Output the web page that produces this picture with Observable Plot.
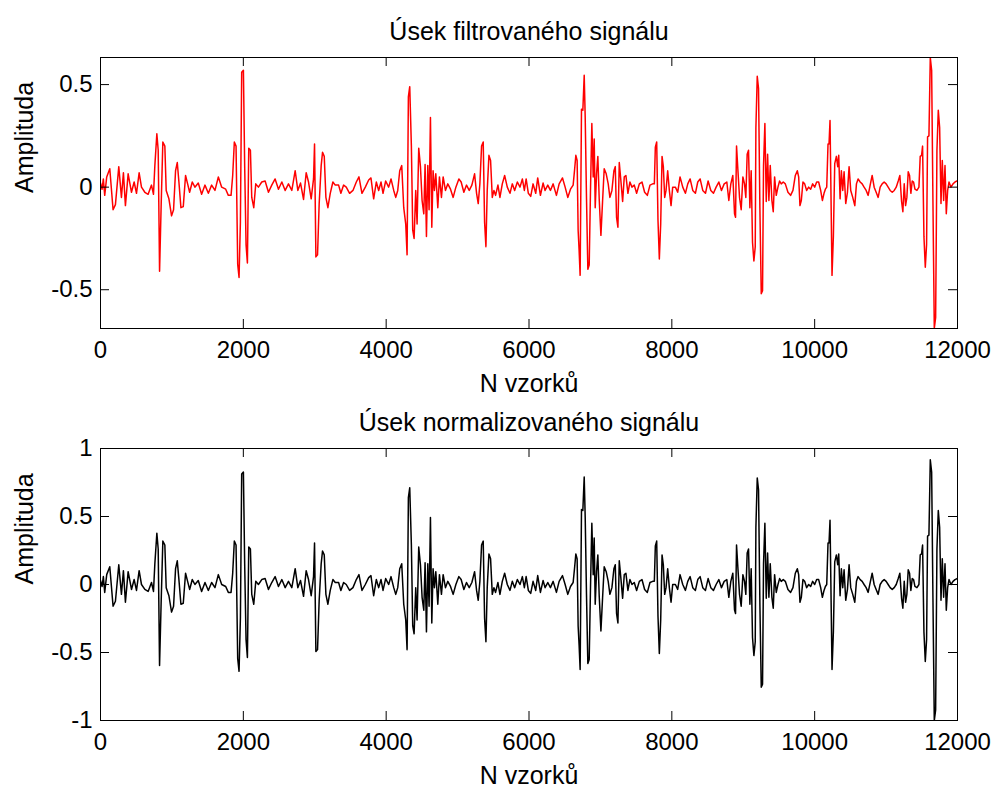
<!DOCTYPE html>
<html>
<head>
<meta charset="utf-8">
<script src="https://cdn.jsdelivr.net/npm/d3@7"></script>
<script src="https://cdn.jsdelivr.net/npm/@observablehq/plot@0.6"></script>
<style>
  html, body { margin: 0; padding: 0; background: #fff; }
  #chart svg { display: block; }
</style>
</head>
<body>
<div id="chart"></div>
<script>
// ---- Data ----
const titles = ["Úsek filtrovaného signálu", "Úsek normalizovaného signálu"];
const xLabel = "N vzorků";
const yLabel = "Amplituda";
const xTicks = [0, 2000, 4000, 6000, 8000, 10000, 12000];
const yTicksFiltered = [-0.5, 0, 0.5];
const yTicksNormalized = [-1, -0.5, 0, 0.5, 1];

// [sample index, amplitude] vertices of the filtered signal
const filteredPoints = [
[0,0.02],[22,-0.01],[40,0.04],[59,-0.04],[87,0.05],[130,0.09],[176,-0.11],[209,-0.085],[256,0.10],[293,-0.05],
[321,0.07],[349,-0.09],[387,0.065],[434,-0.025],[471,0.025],[504,-0.03],[541,0.07],[574,0],[621,-0.025],[667,-0.035],
[714,0.01],[742,-0.035],[761,0.105],[789,0.26],[808,0.18],[827,-0.41],[850,-0.08],[873,0.22],[901,0.20],[920,-0.016],
[958,-0.057],[995,-0.14],[1023,-0.11],[1051,0.08],[1075,0.12],[1098,0.025],[1126,-0.10],[1159,-0.095],[1191,0.057],[1220,0.016],
[1248,-0.025],[1285,0.025],[1322,0],[1369,0.02],[1416,-0.035],[1463,0.01],[1510,-0.03],[1556,0.01],[1603,-0.016],[1650,0.05],
[1697,0],[1753,-0.01],[1790,-0.04],[1828,-0.04],[1851,0.057],[1874,0.22],[1898,0.20],[1921,-0.375],[1940,-0.44],[1959,-0.17],
[1977,0.56],[2001,0.57],[2019,0.10],[2038,-0.28],[2057,-0.37],[2076,0.19],[2099,0.18],[2118,-0.05],[2146,-0.10],[2174,0.016],
[2211,0],[2258,0.025],[2305,0.03],[2352,-0.025],[2398,0.01],[2445,0.04],[2492,-0.01],[2539,0.025],[2586,-0.016],[2632,0.016],
[2679,-0.016],[2726,0.08],[2763,-0.016],[2801,0.02],[2843,-0.06],[2880,0.07],[2913,0.025],[2950,-0.057],
[2983,0.04],[2997,0.21],[3016,-0.34],[3039,-0.33],[3062,-0.08],[3090,0.105],[3109,0.17],[3133,0.15],[3156,-0.05],[3184,-0.10],
[3217,-0.03],[3254,0.025],[3287,0.01],[3334,0.01],[3366,-0.03],[3404,0.01],[3441,0],[3488,-0.03],[3535,-0.016],[3582,0.025],
[3619,0.05],[3661,-0.03],[3708,0],[3755,0.035],[3787,0.045],[3825,-0.057],[3862,0.025],[3895,-0.016],[3928,0.025],[3956,-0.03],
[3993,0.03],[4035,0],[4068,0.04],[4106,-0.016],[4134,-0.05],[4162,-0.016],[4190,0.08],[4218,0.105],[4246,-0.10],[4274,-0.18],
[4293,-0.33],[4311,0.44],[4330,0.49],[4353,0.20],[4372,-0.21],[4391,-0.25],[4414,-0.016],[4433,-0.18],[4456,0.19],[4480,0.10],
[4503,-0.065],[4527,-0.13],[4545,0.11],[4564,-0.24],[4583,0.105],[4601,-0.11],[4620,0.34],[4639,-0.195],[4657,0.08],[4676,-0.016],
[4695,0.065],[4723,-0.10],[4746,0.05],[4774,-0.05],[4798,0.05],[4830,-0.016],[4863,0.016],[4901,-0.01],[4938,-0.05],[4976,0],
[5018,0.04],[5050,0.025],[5088,-0.025],[5125,0.01],[5163,-0.016],[5200,0.01],[5238,0.065],[5266,-0.03],[5289,-0.08],[5312,0.016],
[5336,0.20],[5359,0.22],[5378,-0.17],[5397,-0.29],[5415,-0.016],[5439,0.155],[5462,0.13],[5486,-0.05],[5509,-0.016],[5532,-0.04],
[5565,0.01],[5593,-0.05],[5626,0.016],[5659,0.057],[5696,0],[5734,-0.03],[5766,0.016],[5799,-0.016],[5837,0.025],[5874,0],
[5907,0.04],[5935,-0.016],
[5960,0.04],[5991,-0.03],[6024,-0.045],[6057,0.016],[6094,-0.03],[6122,0.045],[6160,-0.04],[6197,0.02],[6225,-0.016],[6263,0.01],
[6300,-0.016],[6338,0.016],[6384,-0.04],[6422,0.016],[6469,0.045],[6506,0],[6543,-0.05],[6581,-0.01],[6618,0.01],[6637,0.08],
[6656,0.155],[6674,0.13],[6688,-0.21],[6702,-0.31],[6716,-0.43],[6735,0.38],[6754,0.375],[6773,0.545],[6787,0.34],[6805,-0.05],
[6824,-0.40],[6843,-0.38],[6861,-0.016],[6880,0.31],[6899,0.05],[6913,0.235],[6927,-0.10],[6946,0.065],[6964,0.15],[6983,-0.057],
[7007,-0.235],[7030,-0.07],[7053,0.09],[7081,0.065],[7109,0.016],[7133,-0.05],[7161,-0.016],[7189,0.08],[7208,0.10],[7226,-0.147],
[7245,-0.195],[7264,0.12],[7287,0.03],[7311,-0.07],[7334,0.05],[7357,0.057],[7385,-0.03],[7413,0.025],[7442,0],[7474,0.01],
[7507,-0.03],[7545,0.016],[7582,0.025],[7619,-0.025],[7657,-0.04],[7694,0.01],[7732,0.016],[7755,0.016],[7769,0.195],[7788,0.22],
[7806,-0.16],[7825,-0.35],[7844,-0.18],[7863,0.15],[7881,0.10],[7900,-0.05],[7919,-0.016],[7942,0.08],[7965,-0.016],[7989,-0.09],
[8012,0],[8050,0],[8082,-0.025],[8115,0.05],[8153,0],[8190,-0.03],[8223,0.016],[8256,0.04],[8293,-0.016],[8330,-0.03],
[8363,0.025],[8396,0.04],[8433,-0.016],[8471,-0.03],[8508,0.03],[8546,-0.016],[8583,-0.03],[8620,0],[8658,0.025],[8695,-0.016],
[8733,0.016],[8770,0.025],[8798,-0.065],[8826,0.016],[8854,0.057],[8878,-0.13],[8892,-0.147],[8906,0.20],[8924,0.09],[8948,-0.05],
[8971,-0.11],[8995,0.05],
[9018,0.016],[9036,-0.05],[9055,0.16],[9074,0.18],[9093,-0.10],[9111,0.08],[9130,-0.27],[9149,-0.36],[9168,-0.29],[9177,0.29],
[9196,0.54],[9214,0.48],[9233,-0.10],[9252,-0.52],[9270,-0.505],[9284,0.105],[9303,0.31],[9322,-0.07],[9341,0.16],[9359,-0.065],
[9378,0.105],[9401,-0.065],[9420,-0.12],[9439,0.05],[9462,-0.04],[9486,0],[9509,0.03],[9532,0.016],[9560,0.025],[9589,0.016],
[9626,-0.025],[9663,-0.04],[9696,-0.016],[9729,0.057],[9757,0.08],[9776,0.05],[9794,-0.09],[9813,-0.065],[9836,0.025],[9860,0.016],
[9888,-0.016],[9916,0],[9944,-0.01],[9972,0.016],[10000,0],[10028,0.025],[10056,0.025],[10084,-0.016],[10108,-0.065],[10131,-0.03],
[10150,-0.01],[10169,0],[10187,0.21],[10201,0.21],[10215,0.325],[10229,-0.05],[10243,-0.43],[10262,-0.24],[10281,0.115],[10304,0.15],
[10323,0.10],[10337,0.155],[10356,-0.057],[10374,0.08],[10393,-0.016],[10412,0.075],[10435,-0.08],[10459,-0.025],[10482,0.10],[10505,-0.016],
[10533,-0.05],[10562,-0.09],[10585,0.016],[10608,0.04],[10637,0.025],[10665,0.016],[10692,0],[10721,-0.016],[10749,-0.04],[10777,0.01],
[10805,0.057],[10833,0],[10861,-0.025],[10889,-0.05],[10917,0],[10945,0.016],[10973,0.025],[11001,0.016],[11029,0],[11057,-0.016],
[11086,-0.025],[11114,-0.016],[11142,0],[11170,0.03],[11193,0.057],[11217,-0.07],[11235,-0.12],[11254,0.016],[11273,-0.09],[11291,-0.05],
[11310,0.075],[11329,0.057],[11347,-0.03],[11366,0.03],[11385,0.025],[11404,-0.01],[11432,-0.016],[11460,0],[11478,0.15],[11497,0.155],
[11511,0.20],[11530,-0.24],[11549,-0.39],[11567,-0.28],[11581,0.245],[11600,0.25],[11619,0.632],[11638,0.57],[11656,-0.065],[11675,-0.689],
[11694,-0.635],[11712,0.18],[11731,0.375],[11750,0.29],[11769,-0.08],[11787,0.13],[11806,-0.065],[11825,0.105],[11843,-0.13],[11862,-0.016],
[11881,0.025],[11909,0],[11937,0.016],[11965,0.025],[11993,0.03],[12000,0.03]
];

// ---- Derived tables ----
const filtered = filteredPoints.map(([n, v]) => ({n, v}));
const peakAbs = d3.max(filtered, d => Math.abs(d.v));          // normalisation by peak magnitude
const normalized = filtered.map(d => ({n: d.n, v: d.v / peakAbs}));

const FONT = "'Liberation Sans', Arial, Helvetica, sans-serif";
const W = 995, ML = 100, MR = 38;

function panel({data, color, title, yTicks, yDomain, height, marginTop, marginBottom}) {
  const fw = W - ML - MR;
  const fh = height - marginTop - marginBottom;
  const tick = 9;
  return Plot.plot({
    width: W, height, marginTop, marginBottom, marginLeft: ML, marginRight: MR,
    x: {domain: [0, 12000], axis: null},
    y: {domain: yDomain, axis: null},
    style: {fontFamily: FONT, fontSize: "24px", background: "#fff", color: "#000", overflow: "visible"},
    marks: [
      Plot.line(data, {x: "n", y: "v", stroke: color, strokeWidth: 1.5, clip: true}),
      Plot.frame({stroke: "#000", strokeWidth: 1}),
      // inward ticks on all four sides (MATLAB box style)
      Plot.tickX(xTicks, {x: d => d, insetBottom: fh - tick, stroke: "#000"}),
      Plot.tickX(xTicks, {x: d => d, insetTop: fh - tick, stroke: "#000"}),
      Plot.tickY(yTicks, {y: d => d, insetRight: fw - tick, stroke: "#000"}),
      Plot.tickY(yTicks, {y: d => d, insetLeft: fw - tick, stroke: "#000"}),
      // tick labels
      Plot.text(xTicks, {x: d => d, frameAnchor: "bottom", dy: 29, lineAnchor: "bottom",
        text: d => String(d), fontSize: 24, fill: "#000"}),
      Plot.text(yTicks, {y: d => d, frameAnchor: "left", dx: -8, textAnchor: "end", lineAnchor: "middle",
        text: d => String(d), fontSize: 24, fill: "#000"}),
      // title and axis labels
      Plot.text([title], {frameAnchor: "top", dy: -18, lineAnchor: "bottom", text: d => d, fontSize: 25, fill: "#000"}),
      Plot.text([xLabel], {frameAnchor: "bottom", dy: 63, lineAnchor: "bottom", text: d => d, fontSize: 25, fill: "#000"}),
      Plot.text([yLabel], {frameAnchor: "left", dx: -68, rotate: -90, lineAnchor: "bottom", text: d => d, fontSize: 25, fill: "#000"})
    ]
  });
}

const chart = document.getElementById("chart");
chart.append(panel({
  data: filtered, color: "#ff0000", title: titles[0], yTicks: yTicksFiltered,
  yDomain: d3.extent(filtered, d => d.v), height: 400, marginTop: 57, marginBottom: 72
}));
chart.append(panel({
  data: normalized, color: "#000000", title: titles[1], yTicks: yTicksNormalized,
  yDomain: [-1, 1], height: 388, marginTop: 48, marginBottom: 68
}));
</script>
</body>
</html>
